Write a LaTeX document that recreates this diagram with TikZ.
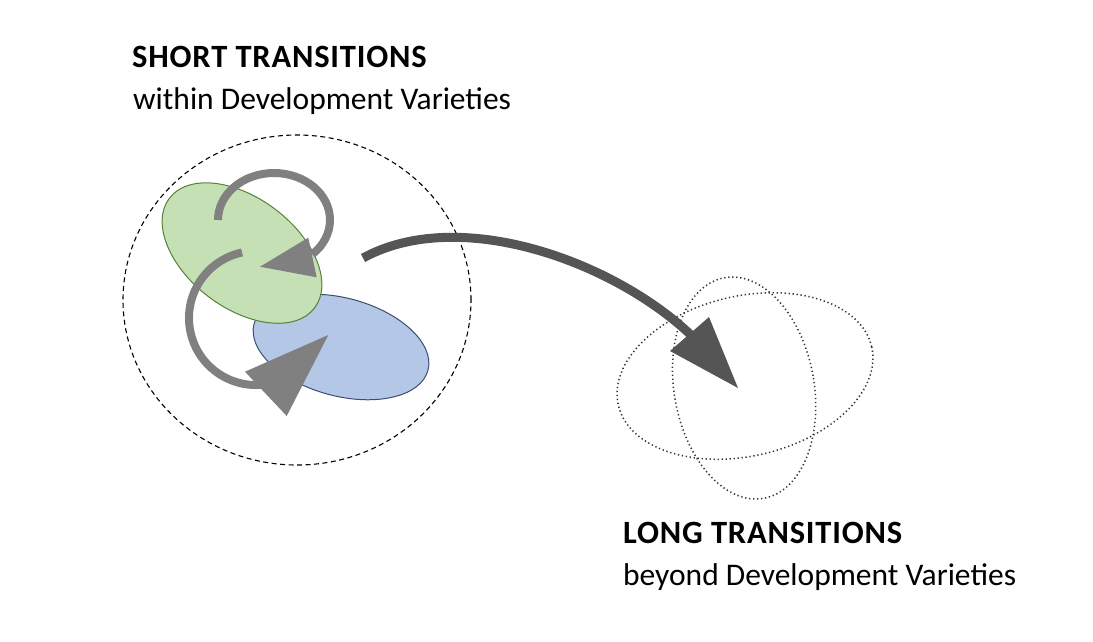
\documentclass[tikz,border=0pt]{standalone}
\usepackage{fontspec}
\setmainfont{Carlito}
\definecolor{greenfill}{HTML}{C5E0B4}
\definecolor{greenline}{HTML}{548235}
\definecolor{bluefill}{HTML}{B4C7E7}
\definecolor{blueline}{HTML}{3A4F72}
\definecolor{arrowgray}{HTML}{808080}
\definecolor{arrowdark}{HTML}{555555}
\definecolor{dotline}{HTML}{333333}
\tikzset{
  titletext/.style={anchor=base west, inner sep=0pt, font=\fontsize{32.5pt}{38pt}\selectfont\bfseries\addfontfeature{LetterSpace=2.5}},
  subtext/.style={anchor=base west, inner sep=0pt, font=\fontsize{31.5pt}{38pt}\selectfont},
  groupring/.style={draw=black, line width=1.1pt, dash pattern=on 5pt off 3.5pt},
  greenset/.style={fill=greenfill, draw=greenline, line width=1pt},
  blueset/.style={fill=bluefill, draw=blueline, line width=1pt},
  dotset/.style={draw=dotline, line width=1.5pt, dash pattern=on 1.3pt off 2.7pt},
  grayshaft/.style={draw=arrowgray, line width=8pt, line cap=butt},
  grayhead/.style={fill=arrowgray, draw=none},
  darkshaft/.style={draw=arrowdark, line width=9pt, line cap=butt},
  darkhead/.style={fill=arrowdark, draw=none}
}
\begin{document}
\begin{tikzpicture}[x=1pt,y=1pt]
\useasboundingbox (0,0) rectangle (1093,-641);
% coordinates
\coordinate (ringc) at (297,-300);
\coordinate (greenc) at (242,-253);
\coordinate (bluec) at (341,-347);
\coordinate (dotac) at (745,-376);
\coordinate (dotbc) at (744,-388);
% dashed ring
\draw[groupring] (ringc) ellipse [x radius=174, y radius=165];
% blue then green
\draw[blueset, rotate around={-15:(bluec)}] (bluec) ellipse [x radius=90, y radius=49];
\draw[greenset, rotate around={-37:(greenc)}] (greenc) ellipse [x radius=91, y radius=55];
% dotted ellipses
\draw[dotset, rotate around={13:(dotac)}] (dotac) ellipse [x radius=130, y radius=80];
\draw[dotset, rotate around={10:(dotbc)}] (dotbc) ellipse [x radius=70, y radius=112];
% gray arrow 1 (upper loop)
\coordinate (a1c) at (274,-220);
\draw[grayshaft] (a1c) ++(180:56 and 47) arc [start angle=180, end angle=-47, x radius=56, y radius=47];
\coordinate (a1tip) at (260,-266.7);
\coordinate (a1b1) at (308.3,-237.7);
\coordinate (a1b2) at (316.7,-277.3);
\fill[grayhead] (a1tip) -- (a1b1) -- (a1b2) -- cycle;
% gray arrow 2 (lower loop)
\coordinate (a2c) at (256,-318);
\draw[grayshaft] (a2c) ++(102:67) arc [start angle=102, end angle=282, radius=67];
\coordinate (a2tip) at (328.3,-335);
\coordinate (a2b1) at (245,-371.7);
\coordinate (a2b2) at (286.7,-416);
\fill[grayhead] (a2tip) -- (a2b1) -- (a2b2) -- cycle;
% dark long arrow
\coordinate (dstart) at (363,-258);
\coordinate (dend) at (692,-336);
\draw[darkshaft] (dstart) .. controls (460,-205) and (615,-262) .. (dend);
\coordinate (dtip) at (738,-388);
\coordinate (db1) at (670,-351);
\coordinate (db2) at (709,-317);
\fill[darkhead] (dtip) -- (db1) -- (db2) -- cycle;
% texts
\node[titletext] (shorttitle) at (132,-67) {SHORT TRANSITIONS};
\node[subtext] (shortsub) at (133,-109.5) {within Development Varieties};
\node[titletext] (longtitle) at (623,-543) {LONG TRANSITIONS};
\node[subtext] (longsub) at (623,-585.5) {beyond Development Varieties};
\end{tikzpicture}
\end{document}
